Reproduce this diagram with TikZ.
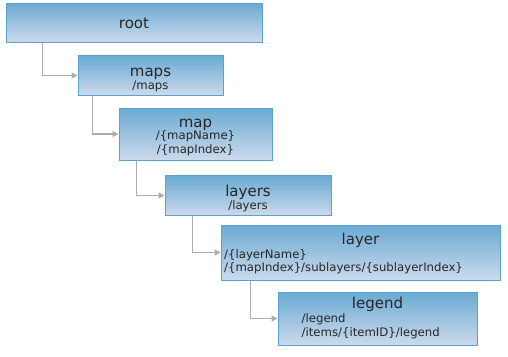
\documentclass[tikz,border=0pt]{standalone}
\usepackage{fontspec}
\setmainfont{DejaVu Sans}
\usetikzlibrary{arrows.meta,calc}
\definecolor{boxtop}{RGB}{106,170,211}
\definecolor{boxbottom}{RGB}{204,218,236}
\definecolor{boxedge}{RGB}{92,160,205}
\definecolor{linkgray}{RGB}{172,172,172}
\tikzset{
  box/.style={draw=boxedge,line width=1pt,top color=boxtop,bottom color=boxbottom,inner sep=0pt},
  title/.style={font=\fontsize{15}{17}\selectfont,anchor=base,inner sep=0pt,text=black!85},
  route/.style={font=\fontsize{11.7}{13.8}\selectfont,inner sep=0pt,text=black!85},
  link/.style={draw=linkgray,line width=1.8pt,-{Triangle[length=6pt,width=6pt]}},
}

\begin{document}
\begin{tikzpicture}[x=1pt,y=-1pt]
  \useasboundingbox (0,0) rectangle (508,356);
  % boxes
  \node[box,minimum width=256pt,minimum height=39pt] (root)   at (134,22.5)  {};
  \node[box,minimum width=145pt,minimum height=40pt] (maps)   at (150.5,75.5) {};
  \node[box,minimum width=153pt,minimum height=52pt] (map)    at (195.5,134) {};
  \node[box,minimum width=166pt,minimum height=40pt] (layers) at (248,195.5) {};
  \node[box,minimum width=279pt,minimum height=55pt] (layer)  at (360.5,252.5) {};
  \node[box,minimum width=199pt,minimum height=53pt] (legend) at (377.5,318.5) {};
  % titles and routes
  \node[title] (root-t)   at (134,28)   {root};
  \node[title] (maps-t)   at (150.5,76) {maps};
  \node[route,anchor=base] (maps-r) at (150.5,89.5) {/maps};
  \node[title] (map-t)    at (195.5,127) {map};
  \node[route,anchor=north,align=center] (map-r) at (195.5,130.5) {/\{mapName\}\\/\{mapIndex\}};
  \node[title] (layers-t) at (248,196)  {layers};
  \node[route,anchor=base] (layers-r) at (248,209.5) {/layers};
  \node[title] (layer-t)  at (360.5,244) {layer};
  \node[route,anchor=north west,align=left] (layer-r) at (224,249)
    {/\{layerName\}\\/\{mapIndex\}/sublayers/\{sublayerIndex\}};
  \node[title] (legend-t) at (377.5,308) {legend};
  \node[route,anchor=north west,align=left] (legend-r) at (301.5,313.5)
    {/legend\\/items/\{itemID\}/legend};
  % connectors
  \draw[link] ([xshift=37pt]root.south west)   |- (maps.west);
  \draw[link] ([xshift=15pt]maps.south west)   |- (map.west);
  \draw[link] ([xshift=18pt]map.south west)    |- (layers.west);
  \draw[link] ([xshift=28pt]layers.south west) |- (layer.west);
  \draw[link] ([xshift=30pt]layer.south west)  |- (legend.west);
\end{tikzpicture}
\end{document}
